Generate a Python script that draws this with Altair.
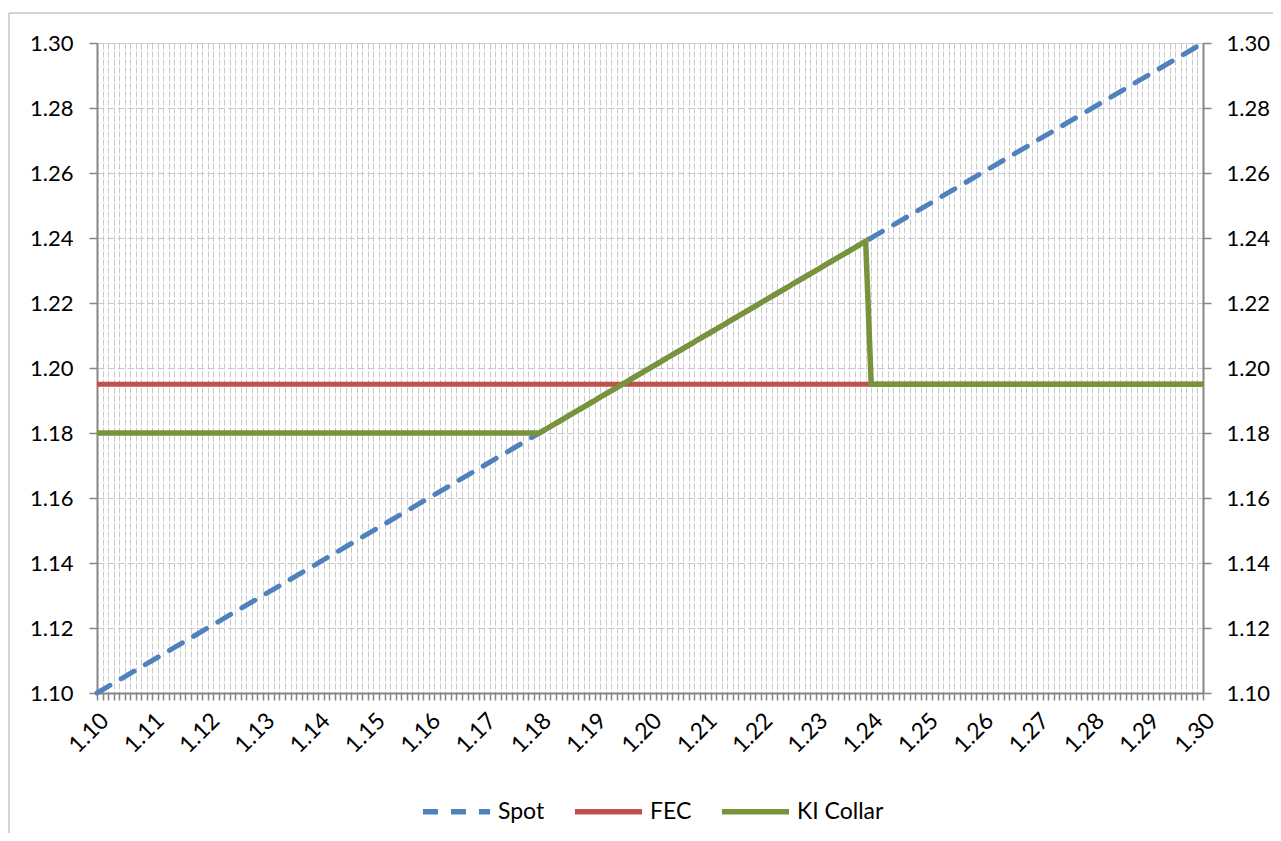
import altair as alt
import pandas as pd

# ---- data ----
series_names = ["Spot", "FEC", "KI Collar"]
series_colors = ["#4F81BD", "#C0504D", "#77933C"]

spot_x = [1.10, 1.30]
spot_y = [1.10, 1.30]

fec_x = [1.10, 1.30]
fec_y = [1.195, 1.195]

ki_x = [1.10, 1.18, 1.239, 1.240, 1.30]
ki_y = [1.18, 1.18, 1.239, 1.195, 1.195]

y_ticks = [1.10, 1.12, 1.14, 1.16, 1.18, 1.20, 1.22, 1.24, 1.26, 1.28, 1.30]
# category axis: one tick / gridline per 0.001, label every 0.01
x_ticks = [round(1.10 + i / 1000, 3) for i in range(201)]

rows = []
for name, xs, ys in [("Spot", spot_x, spot_y), ("FEC", fec_x, fec_y), ("KI Collar", ki_x, ki_y)]:
    for i, (xv, yv) in enumerate(zip(xs, ys)):
        rows.append({"series": name, "x": xv, "y": yv, "order": i})
df = pd.DataFrame(rows)

FONT = "Lato"
FS = 23
FSY = 22
GRAY = "#868686"
GRID = "#C9C9C9"

xscale = alt.Scale(domain=[1.10, 1.30], nice=False, zero=False)
yscale = alt.Scale(domain=[1.10, 1.30], nice=False, zero=False)

x_axis = alt.Axis(
    values=x_ticks,
    labelExpr="round(datum.value*1000) % 10 == 0 ? format(datum.value, '.2f') : ''",
    labelAngle=-45,
    labelOverlap=False,
    labelFont=FONT,
    labelFontSize=FS,
    labelColor="#000000",
    labelPadding=9,
    tickSize=7,
    tickColor=GRAY,
    tickWidth=1.5,
    domainColor=GRAY,
    domainWidth=2,
    grid=True,
    gridColor=GRID,
    gridDash=[6, 2],
    gridWidth=1,
    title=None,
)

y_left = alt.Axis(
    values=y_ticks,
    format=".2f",
    orient="left",
    labelFont=FONT,
    labelFontSize=FSY,
    labelColor="#000000",
    labelPadding=16,
    tickSize=8,
    tickColor=GRAY,
    tickWidth=1.5,
    domainColor=GRAY,
    domainWidth=2,
    grid=True,
    gridColor=GRID,
    gridDash=[7, 3],
    gridWidth=1.2,
    title=None,
)

y_right = alt.Axis(
    values=y_ticks,
    format=".2f",
    orient="right",
    labelFont=FONT,
    labelFontSize=FSY,
    labelColor="#000000",
    labelPadding=15,
    tickSize=8,
    tickColor=GRAY,
    tickWidth=1.5,
    domainColor=GRAY,
    domainWidth=2,
    grid=False,
    title=None,
)

legend = alt.Legend(
    title=None,
    orient="none",
    legendX=323,
    legendY=732,
    direction="horizontal",
    symbolType="stroke",
    symbolSize=4500,
    symbolStrokeWidth=5.5,
    labelFont=FONT,
    labelFontSize=FS,
    labelColor="#000000",
    labelOffset=5,
    columnPadding=18,
)

color = alt.Color("series:N", scale=alt.Scale(domain=series_names, range=series_colors), legend=legend)
dash = alt.StrokeDash(
    "series:N",
    scale=alt.Scale(domain=series_names, range=[[15, 13], [1, 0], [1, 0]]),
    legend=legend,
)

x_enc = alt.X("x:Q", scale=xscale, axis=x_axis)

spot = alt.Chart(df).transform_filter(alt.datum.series == "Spot").mark_line(
    strokeWidth=5, strokeCap="round"
).encode(x=x_enc, y=alt.Y("y:Q", scale=yscale, axis=y_left), color=color, strokeDash=dash, order="order:Q")

fec = alt.Chart(df).transform_filter(alt.datum.series == "FEC").mark_line(
    strokeWidth=5
).encode(x=x_enc, y=alt.Y("y:Q", scale=yscale, axis=y_right), color=color, strokeDash=dash, order="order:Q")

ki = alt.Chart(df).transform_filter(alt.datum.series == "KI Collar").mark_line(
    strokeWidth=5.5, strokeJoin="miter"
).encode(x=x_enc, y=alt.Y("y:Q", scale=yscale, axis=None), color=color, strokeDash=dash, order="order:Q")

frame = alt.Chart(pd.DataFrame({"f": [0]})).mark_rect(
    fill=None, stroke="#A6A6A6", strokeWidth=1, clip=False
).encode(x=alt.value(-88), y=alt.value(-30), x2=alt.value(1300), y2=alt.value(900))

chart = (
    alt.layer(frame, spot, fec, ki)
    .resolve_axis(y="independent")
    .properties(
        width=1106,
        height=650,
        autosize=alt.AutoSizeParams(type="none"),
        padding={"left": 89, "top": 35, "right": 70, "bottom": 140},
    )
    .configure_view(stroke=GRAY, strokeWidth=1)
    .configure(background="#FFFFFF")
)

chart.save("out.html", embed_options={"renderer": "svg", "actions": False})
